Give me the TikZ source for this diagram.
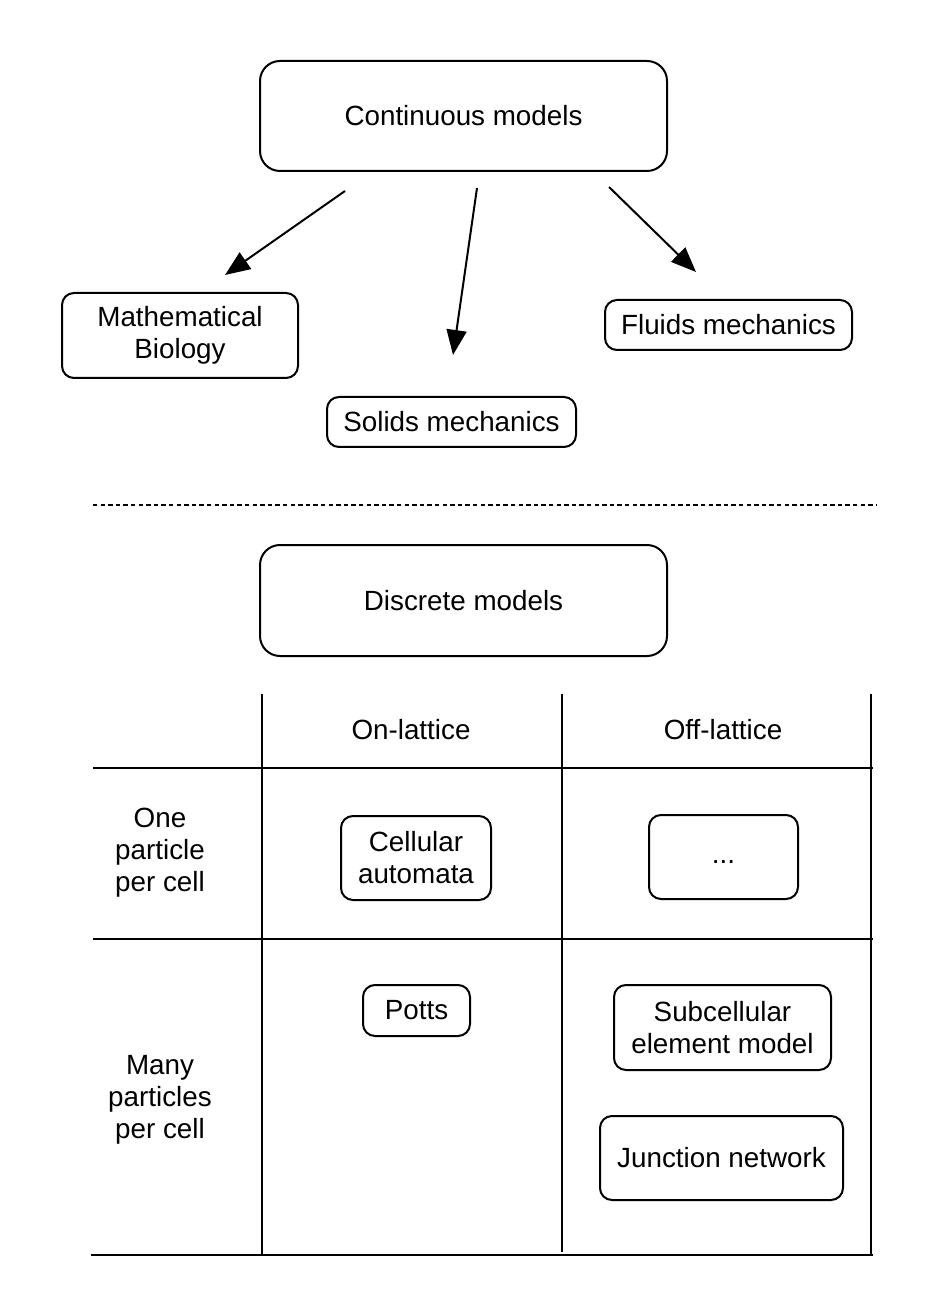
\documentclass[tikz,border=0pt]{standalone}
\usepackage{fontspec}
\setmainfont{Liberation Sans}
\usetikzlibrary{arrows.meta}
\tikzset{
  box/.style={draw, line width=1pt, rounded corners=6pt, align=center, inner sep=0pt,
    font=\fontsize{13.9}{16}\selectfont},
  bigbox/.style={box, rounded corners=10pt},
  lbl/.style={align=center, inner sep=0pt, font=\fontsize{13.9}{16}\selectfont},
  arr/.style={line width=1pt, -{Triangle[length=12.5pt,width=10pt]}},
  grid/.style={line width=0.6pt},
  sep/.style={line width=0.8pt, dash pattern=on 2.2pt off 1.6pt}
}
\begin{document}
\begin{tikzpicture}[x=0.5pt,y=-0.5pt]
\useasboundingbox (0,0) rectangle (926,1309);
% top part
\node[bigbox, minimum width=203.5pt, minimum height=55pt] (cont) at (463.5,116) {Continuous models};
\node[box, minimum width=118pt, minimum height=42.5pt] (math) at (180,335.5) {Mathematical\\Biology};
\node[box, minimum width=124.5pt, minimum height=25pt] (solid) at (451.5,422) {Solids mechanics};
\node[box, minimum width=123.5pt, minimum height=25pt] (fluid) at (728.5,325) {Fluids mechanics};
\coordinate (a1s) at (345,191); \coordinate (a1e) at (225,275);
\coordinate (a2s) at (477,188); \coordinate (a2e) at (453,355);
\coordinate (a3s) at (609,187); \coordinate (a3e) at (696,272);
\draw[arr] (a1s) -- (a1e);
\draw[arr] (a2s) -- (a2e);
\draw[arr] (a3s) -- (a3e);
% separator
\coordinate (sl) at (93,505); \coordinate (sr) at (876,505);
\draw[sep] (sl) -- (sr);
% bottom part
\node[bigbox, minimum width=203.5pt, minimum height=55.5pt] (disc) at (463.5,600.5) {Discrete models};
% table
\coordinate (v1t) at (262,694); \coordinate (v1b) at (262,1254);
\coordinate (v2t) at (562,694); \coordinate (v2b) at (562,1252);
\coordinate (v3t) at (871,694); \coordinate (v3b) at (871,1254);
\coordinate (h1l) at (93,768); \coordinate (h1r) at (873,768);
\coordinate (h2l) at (93,939); \coordinate (h2r) at (873,939);
\coordinate (h3l) at (91,1255); \coordinate (h3r) at (873,1255);
\draw[grid] (v1t) -- (v1b);
\draw[grid] (v2t) -- (v2b);
\draw[grid] (v3t) -- (v3b);
\draw[grid] (h1l) -- (h1r);
\draw[grid] (h2l) -- (h2r);
\draw[grid] (h3l) -- (h3r);
\node[lbl] (on) at (411,730) {On-lattice};
\node[lbl] (off) at (723,730) {Off-lattice};
\node[lbl] (one) at (160,853) {One\\particle\\per cell};
\node[lbl] (many) at (160,1100) {Many\\particles\\per cell};
\node[box, minimum width=75pt, minimum height=42pt] (ca) at (416,858) {Cellular\\automata};
\node[box, minimum width=74.5pt, minimum height=42pt] (dots) at (723.5,857) {\strut...};
\node[box, minimum width=53.5pt, minimum height=25.5pt] (potts) at (416.5,1010.5) {Potts};
\node[box, minimum width=108.5pt, minimum height=42.5pt] (sub) at (722.5,1027.5) {Subcellular\\element model};
\node[box, minimum width=121.5pt, minimum height=42pt] (junc) at (721.5,1158) {Junction network};
\end{tikzpicture}
\end{document}
